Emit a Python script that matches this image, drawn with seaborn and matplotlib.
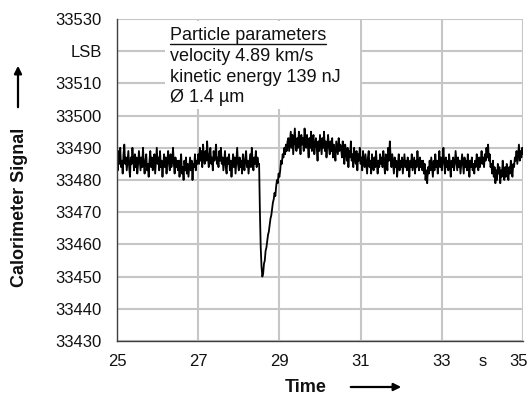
import numpy as np
import pandas as pd
import matplotlib
matplotlib.use("Agg")
import matplotlib.pyplot as plt
import matplotlib.transforms as mtransforms
import seaborn as sns
from matplotlib.lines import Line2D
from matplotlib.patches import Rectangle

# ---------------- data (ADC counts, LSB), sampled every 0.02 s from 25 s ----------------
t_start = 25.0
t_step = 0.02

seg_before = [
    33487, 33483, 33489, 33485, 33490, 33484, 33486, 33482, 33488, 33491,
    33485, 33487, 33483, 33486, 33489, 33484, 33481, 33487, 33485, 33490,
    33486, 33483, 33488, 33484, 33487, 33482, 33485, 33489, 33486, 33483,
    33487, 33484, 33490, 33485, 33482, 33486, 33488, 33483, 33485, 33481,
    33486, 33489, 33484, 33487, 33483, 33485, 33488, 33482, 33486, 33490,
    33485, 33487, 33483, 33489, 33484, 33486, 33481, 33485, 33488, 33484,
    33487, 33482, 33486, 33489, 33485, 33483, 33488, 33484, 33486, 33490,
    33485, 33482, 33487, 33484, 33486,
    33483, 33486, 33481, 33485, 33488, 33482, 33484, 33480, 33486, 33483,
    33487, 33482, 33485, 33481, 33484, 33487, 33483, 33486, 33480, 33485,
    33484, 33488, 33483, 33486, 33485,
    33488, 33485, 33490, 33486, 33489, 33484, 33491, 33487, 33485, 33489,
    33486, 33492, 33487, 33484, 33488, 33490, 33485, 33487, 33483, 33489,
    33486, 33488, 33491, 33485, 33487, 33484, 33489, 33486, 33490, 33485,
    33487, 33483, 33486, 33489, 33484, 33482, 33487, 33485, 33488, 33483,
    33486, 33481, 33485, 33488, 33484, 33487, 33482, 33486, 33490, 33485,
    33483, 33487, 33484, 33486, 33482, 33488, 33485, 33483, 33487, 33489,
    33484, 33486, 33482, 33485, 33488, 33484, 33490, 33486, 33483, 33487,
    33485, 33489, 33484, 33487, 33485,
]

seg_dip = [
    33485, 33470, 33459, 33453, 33450, 33451, 33454, 33455, 33458, 33459,
    33461, 33463, 33464, 33466, 33468, 33469, 33471, 33473, 33474, 33476,
    33475, 33478, 33480, 33479, 33482, 33481, 33483, 33486, 33485, 33488,
    33487, 33490, 33488, 33491, 33489, 33492,
]

seg_plateau = [
    33493, 33489, 33492, 33495, 33490, 33494, 33488, 33492, 33496, 33491,
    33489, 33493, 33490, 33495, 33492, 33488, 33494, 33491, 33493, 33489,
    33496, 33492, 33490, 33494, 33491, 33487, 33493, 33490, 33495, 33489,
    33492, 33494, 33488, 33491, 33493, 33490, 33486, 33492, 33489, 33494,
    33491, 33488, 33493, 33490, 33495, 33489, 33492, 33487, 33491, 33494,
    33490, 33488, 33492, 33489, 33493, 33487, 33491, 33489, 33486, 33492,
    33490, 33488, 33493, 33489, 33491,
]

seg_decay = [
    33490, 33487, 33492, 33488, 33485, 33491, 33489, 33486, 33490, 33484,
    33489, 33487, 33492, 33486, 33488, 33484, 33490, 33487, 33485, 33489,
    33483, 33488, 33486, 33490, 33485, 33487, 33483, 33489, 33486, 33484,
    33488, 33485, 33482, 33487, 33489, 33484, 33486, 33482, 33488, 33485,
    33483, 33487, 33484, 33489, 33485, 33482, 33486, 33484, 33488, 33485,
]

seg_after = [
    33487, 33484, 33489, 33485, 33482, 33488, 33486, 33483, 33490, 33486,
    33492, 33487, 33484, 33488, 33485, 33482, 33487, 33484, 33486, 33481,
    33485, 33488, 33483, 33486, 33484, 33487, 33482, 33485, 33488, 33484,
    33486, 33483, 33487, 33485, 33481, 33486, 33484, 33488, 33483, 33485,
    33487, 33482, 33486, 33484, 33489, 33485, 33483, 33487, 33484, 33486,
    33483, 33486, 33482, 33485, 33480, 33483, 33479, 33484, 33482, 33486,
    33483, 33487, 33484, 33481, 33486, 33483, 33488, 33484, 33486, 33482,
    33485, 33489, 33484, 33487, 33483, 33486, 33490, 33485, 33482, 33487,
    33484, 33486, 33483, 33488, 33485, 33481, 33486, 33484, 33487, 33483,
    33485, 33489, 33486, 33483, 33487, 33484, 33486, 33482, 33485, 33488,
    33485, 33482, 33487, 33484, 33486, 33483, 33488, 33485, 33481, 33486,
    33484, 33487, 33483, 33485, 33482, 33486, 33484, 33488, 33485, 33483,
    33487, 33484, 33486, 33489, 33485, 33487, 33484, 33488, 33486, 33490,
    33487, 33491, 33486, 33488, 33484,
    33485, 33482, 33486, 33481, 33484, 33479, 33483, 33480, 33485, 33482,
    33484, 33479, 33483, 33481, 33486, 33482, 33480, 33484, 33481, 33485,
    33483, 33480, 33484, 33482, 33486, 33483, 33481, 33485, 33484, 33487,
    33486, 33489, 33485, 33488, 33491, 33486, 33489, 33487, 33490, 33488,
]

y_ticks = [33430, 33440, 33450, 33460, 33470, 33480, 33490, 33500, 33510, 33520, 33530]
y_tick_labels = ["33430", "33440", "33450", "33460", "33470", "33480",
                 "33490", "33500", "33510", "LSB", "33530"]
x_ticks = [25, 27, 29, 31, 33, 35]
x_tick_labels = ["25", "27", "29", "31", "33", "35"]
unit_tick = [34]
unit_label = ["s"]

box_title = "Particle parameters"
box_lines = ["velocity 4.89 km/s", "kinetic energy 139 nJ", "\u00d8 1.4 \u00b5m"]

# ---------------- figure ----------------
signal = seg_before + seg_dip + seg_plateau + seg_decay + seg_after
time = t_start + t_step * np.arange(len(signal))
df = pd.DataFrame({"Time": time, "Signal": signal})

sns.set_theme(style="white")
plt.rcParams["font.family"] = ["Liberation Sans", "DejaVu Sans"]

W, H = 530, 396
fig = plt.figure(figsize=(W / 100, H / 100), dpi=100)
ax = fig.add_axes([117 / W, 55 / H, 406 / W, 322 / H])

sns.lineplot(data=df, x="Time", y="Signal", ax=ax, color="black", linewidth=1.3)

ax.set_xlim(25, 35)
ax.set_ylim(33430, 33530)
ax.set_xticks(x_ticks, labels=x_tick_labels)
ax.set_xticks(unit_tick, labels=unit_label, minor=True)
ax.set_yticks(y_ticks, labels=y_tick_labels)

ax.grid(True, which="major", color="#c6c6c6", linewidth=1.5)
ax.set_axisbelow(True)
for s in ["top", "right"]:
    ax.spines[s].set_visible(False)
for s in ["left", "bottom"]:
    ax.spines[s].set_color("#404040")
    ax.spines[s].set_linewidth(1.0)

ax.tick_params(axis="x", which="major", direction="inout", length=7, width=1,
               color="#404040", labelsize=12, pad=6, labelcolor="#111111")
ax.tick_params(axis="x", which="minor", length=0, labelsize=12, pad=9.5,
               labelcolor="#111111")
ax.tick_params(axis="y", which="major", direction="out", length=5, width=1,
               color="#404040", labelsize=12, pad=6, labelcolor="#111111")

# nudge the last x tick label so it stays inside the canvas
last_lbl = ax.get_xticklabels()[-1]
last_lbl.set_transform(last_lbl.get_transform() +
                       mtransforms.ScaledTranslation(-4 / 100, 0, fig.dpi_scale_trans))

ax.set_xlabel("Time", fontsize=13, fontweight="bold", color="#111111")
ax.set_ylabel("Calorimeter Signal", fontsize=13, fontweight="bold", color="#111111")
ax.xaxis.set_label_coords((306 - 117) / 406, (341 - 379) / 322)
ax.yaxis.set_label_coords((28 - 117) / 406, (341 - 207) / 322)

# arrows next to the axis labels
ax.annotate("", xy=(18, H - 63), xytext=(18, H - 110), xycoords="figure pixels",
            textcoords="figure pixels",
            arrowprops=dict(arrowstyle="-|>", color="black", lw=1.6, mutation_scale=11))
ax.annotate("", xy=(404, H - 387), xytext=(348, H - 387), xycoords="figure pixels",
            textcoords="figure pixels",
            arrowprops=dict(arrowstyle="-|>", color="black", lw=1.6, mutation_scale=11))

# white box behind the parameter text
box = Rectangle((165 / W, 1 - 109 / H), (360 - 165) / W, (109 - 21) / H,
                transform=fig.transFigure, facecolor="white", edgecolor="none",
                zorder=1.5)
ax.add_artist(box)

tx = 170
t_title = fig.text(tx / W, 1 - 40 / H, box_title, fontsize=13, va="baseline",
                   ha="left", color="#111111")
for i, line in enumerate(box_lines):
    fig.text(tx / W, 1 - (61 + 20.6 * i) / H, line, fontsize=13, va="baseline",
             ha="left", color="#111111")

fig.canvas.draw()
bb = t_title.get_window_extent(fig.canvas.get_renderer())
uy = (H - 40 - 3.5) / H
fig.add_artist(Line2D([bb.x0 / W, bb.x1 / W], [uy, uy], transform=fig.transFigure,
                      color="#111111", linewidth=1.0))

fig.savefig("out.png", dpi=100)
